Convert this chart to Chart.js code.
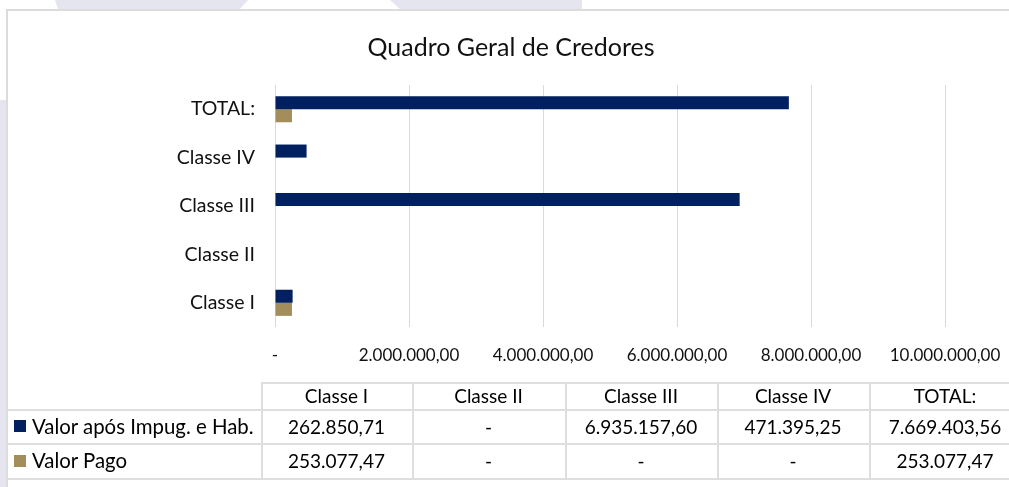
<!DOCTYPE html>
<html><head><meta charset="utf-8">
<script src="https://cdn.jsdelivr.net/npm/chart.js@4.4.1/dist/chart.umd.min.js"></script>
<style>
html,body{margin:0;padding:0;width:1009px;height:487px;overflow:hidden;background:#fff;font-family:Lato, sans-serif;}
.wm{position:absolute;background:#e4e5ee;}
#frame{position:absolute;left:6px;top:9px;width:1020px;height:500px;border:2px solid #dcdcdc;background:#fff;box-sizing:border-box}
#c{position:absolute;left:0;top:0;}
.ln{position:absolute;background:#dedede}
.cell{position:absolute;box-sizing:border-box;display:flex;align-items:center;justify-content:center;font-size:19px;color:#000;white-space:nowrap;line-height:1}
.leg{justify-content:flex-start;font-size:20.4px}
.sw{display:inline-block;width:12px;height:12px;margin-right:6px}
</style>
</head><body>
<div class="wm" style="left:0;top:0;width:1009px;height:9px;clip-path:polygon(55px 0,248px 0,240px 9px,58px 9px)"></div>
<div class="wm" style="left:0;top:0;width:1009px;height:9px;clip-path:polygon(390px 0,582px 0,582px 9px,400px 9px)"></div>
<div class="wm" style="left:0;top:100px;width:6px;height:387px"></div>
<div id="frame"></div>
<canvas id="c" width="1009" height="487"></canvas>
<div id="tbl"></div>
<script>
const categories = ['Classe I','Classe II','Classe III','Classe IV','TOTAL:'];
const valorAposImpug = [262850.71, 0, 6935157.60, 471395.25, 7669403.56];
const valorPago = [253077.47, 0, 0, 0, 253077.47];
const seriesNames = ['Valor após Impug. e Hab.','Valor Pago'];
const xTickLabels = ['-','2.000.000,00','4.000.000,00','6.000.000,00','8.000.000,00','10.000.000,00'];
const seriesColors = ['#002060','#A38D5B'];
const chartTitle = 'Quadro Geral de Credores';

function fmt(v){
  if(!v) return '-';
  const parts = v.toFixed(2).split('.');
  return parts[0].replace(/\B(?=(\d{3})+(?!\d))/g,'.') + ',' + parts[1];
}

const FONT = 'Lato';
const rev = a => a.slice().reverse();

new Chart(document.getElementById('c'), {
  type: 'bar',
  data: {
    labels: rev(categories),
    datasets: [
      {label: seriesNames[0], data: rev(valorAposImpug), backgroundColor: seriesColors[0], borderWidth: 0},
      {label: seriesNames[1], data: rev(valorPago), backgroundColor: seriesColors[1], borderWidth: 0}
    ]
  },
  options: {
    indexAxis: 'y',
    responsive: false,
    animation: false,
    categoryPercentage: 0.54,
    barPercentage: 1.0,
    layout: {padding: {left: 77, right: 64, top: 0, bottom: 0}},
    plugins: {
      legend: {display: false},
      tooltip: {enabled: false},
      title: {display: true, text: chartTitle, color: '#111',
        font: {family: FONT, size: 25, weight: 'normal'}, padding: {top: 33, bottom: 22}}
    },
    scales: {
      x: {
        min: 0, max: 10000000,
        ticks: {stepSize: 2000000, color: '#111', font: {family: FONT, size: 17}, padding: 18,
          callback: (v, i) => xTickLabels[i]},
        grid: {color: '#d9d9d9', drawTicks: false, lineWidth: 1},
        border: {display: false},
        afterFit(s){ s.height = 160; s.paddingLeft = 0; s.paddingRight = 0; }
      },
      y: {
        ticks: {color: '#111', font: {family: FONT, size: 19.5}, padding: 20},
        grid: {display: false, drawTicks: false},
        border: {display: false},
        afterFit(s){ s.width = 198; s.paddingTop = 0; s.paddingBottom = 0; }
      }
    }
  }
});

// data table under the chart
const colEdges = [261, 412, 565, 717, 869, 1021];
const rowEdges = [382, 409, 443, 478];
const tbl = document.getElementById('tbl');
function add(cls, style, html){ const d = document.createElement('div'); d.className = cls; Object.assign(d.style, style); if(html !== undefined) d.innerHTML = html; tbl.appendChild(d); return d; }
add('ln', {left: colEdges[0]+'px', top: rowEdges[0]+'px', width: (1009-colEdges[0])+'px', height: '2px'});
for (let r = 1; r < rowEdges.length; r++) add('ln', {left: '6px', top: rowEdges[r]+'px', width: '1003px', height: '2px'});
for (let c = 0; c < colEdges.length - 1; c++) add('ln', {left: colEdges[c]+'px', top: rowEdges[0]+'px', width: '2px', height: (rowEdges[3]-rowEdges[0]+2)+'px'});
categories.forEach((cat, i) => add('cell', {left: colEdges[i]+'px', top: rowEdges[0]+'px', width: (colEdges[i+1]-colEdges[i])+'px', height: (rowEdges[1]-rowEdges[0])+'px'}, cat));
const rows = [valorAposImpug, valorPago];
rows.forEach((vals, r) => {
  add('cell leg', {left: '14px', top: rowEdges[r+1]+'px', width: '247px', height: (rowEdges[r+2]-rowEdges[r+1])+'px'},
    '<span class="sw" style="background:' + seriesColors[r] + '"></span>' + seriesNames[r]);
  vals.forEach((v, i) => add('cell', {left: colEdges[i]+'px', top: rowEdges[r+1]+'px', width: (colEdges[i+1]-colEdges[i])+'px', height: (rowEdges[r+2]-rowEdges[r+1])+'px'}, fmt(v)));
});
</script>
</body></html>
